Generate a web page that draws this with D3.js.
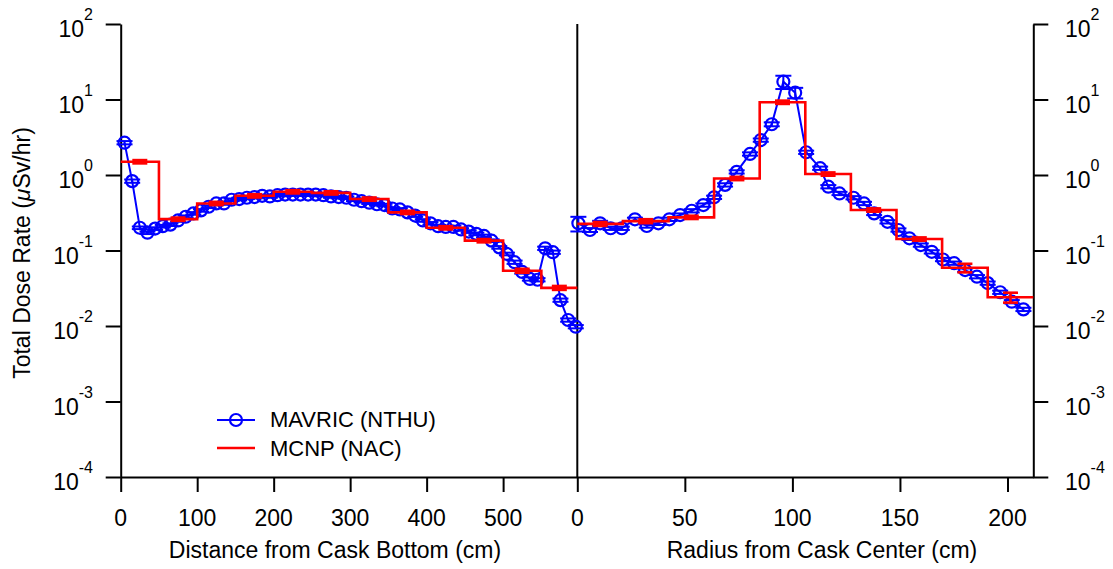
<!DOCTYPE html>
<html>
<head>
<meta charset="utf-8">
<script src="https://cdn.jsdelivr.net/npm/d3@7"></script>
<style>
  body { margin: 0; background: #fff; }
  svg { display: block; font-family: "Liberation Sans", Arial, sans-serif; }
</style>
</head>
<body>
<svg id="chart" width="1113" height="569"></svg>
<script>
// ---- data ----
// left panel: distance from cask bottom (cm)
const leftX = [5, 15, 25, 35, 45, 55, 65, 75, 85, 95, 105, 115, 125, 135, 145, 155, 165, 175, 185, 195,
  205, 215, 225, 235, 245, 255, 265, 275, 285, 295, 305, 315, 325, 335, 345, 355, 365, 375, 385, 395,
  405, 415, 425, 435, 445, 455, 465, 475, 485, 495, 505, 515, 525, 535, 545, 555, 565, 575, 585, 595];
const leftMavric = [2.68, 0.83, 0.20, 0.172, 0.195, 0.21, 0.22, 0.25, 0.28, 0.31, 0.34, 0.38, 0.42, 0.42, 0.47, 0.48, 0.50, 0.51, 0.53, 0.52,
  0.54, 0.55, 0.55, 0.55, 0.55, 0.55, 0.54, 0.52, 0.51, 0.50, 0.47, 0.45, 0.43, 0.41, 0.40, 0.36, 0.35, 0.32, 0.29, 0.25,
  0.229, 0.21, 0.205, 0.205, 0.19, 0.178, 0.166, 0.156, 0.135, 0.11, 0.09, 0.07, 0.052, 0.042, 0.041, 0.107, 0.095, 0.022, 0.012, 0.0098];
const leftMavricErr = [0.05, 0.05, 0.04, 0.04, 0.04, 0.04, 0.04, 0.04, 0.04, 0.04, 0.04, 0.04, 0.04, 0.04, 0.04, 0.04, 0.04, 0.04, 0.04, 0.04,
  0.04, 0.04, 0.04, 0.04, 0.04, 0.04, 0.04, 0.04, 0.04, 0.04, 0.04, 0.04, 0.04, 0.04, 0.04, 0.04, 0.04, 0.04, 0.04, 0.04,
  0.04, 0.04, 0.04, 0.04, 0.04, 0.04, 0.04, 0.04, 0.04, 0.04, 0.04, 0.05, 0.05, 0.05, 0.05, 0.05, 0.05, 0.05, 0.05, 0.05];
const leftEdges = [0, 50, 100, 150, 200, 250, 300, 350, 400, 450, 500, 550, 597];
const leftMcnp = [1.5, 0.26, 0.42, 0.53, 0.60, 0.58, 0.48, 0.32, 0.20, 0.135, 0.054, 0.032];
const leftMcnpErr = [0.05, 0.05, 0.05, 0.05, 0.05, 0.05, 0.05, 0.05, 0.05, 0.05, 0.06, 0.06];

// right panel: radius from cask center (cm)
const rightX = [0.5, 5.9, 10.6, 15.5, 20.7, 26.8, 32.3, 37.7, 42.8, 47.8, 53.2, 58.6, 63.6, 68.7, 74.1, 80.3, 85.3, 90.4, 95.8, 101.3,
  106.4, 112.9, 116.7, 121.9, 128.4, 133.3, 138, 144.2, 149.3, 154.4, 159.7, 164.8, 170, 175.2, 180.3, 185.8, 190.8, 196.6, 202, 207.4];
const rightMavric = [0.229, 0.187, 0.229, 0.197, 0.197, 0.259, 0.211, 0.229, 0.259, 0.295, 0.336, 0.40, 0.506, 0.74, 1.1, 1.9, 2.9, 4.7, 17.2, 12.3,
  2.0, 1.23, 0.70, 0.57, 0.50, 0.42, 0.31, 0.24, 0.187, 0.145, 0.118, 0.096, 0.076, 0.068, 0.055, 0.045, 0.037, 0.028, 0.021, 0.0166];
const rightMavricErr = [0.22, 0.06, 0.08, 0.05, 0.05, 0.05, 0.05, 0.05, 0.05, 0.05, 0.05, 0.05, 0.05, 0.05, 0.05, 0.05, 0.05, 0.06, 0.2, 0.16,
  0.05, 0.05, 0.05, 0.05, 0.05, 0.05, 0.05, 0.05, 0.05, 0.05, 0.05, 0.05, 0.05, 0.05, 0.05, 0.05, 0.05, 0.05, 0.05, 0.05];
const rightEdges = [0, 21.2, 42.4, 63.6, 84.8, 106, 127.2, 148.4, 169.6, 190.8, 212];
const rightMcnp = [0.225, 0.245, 0.275, 0.90, 9.2, 1.03, 0.344, 0.142, 0.059, 0.024];
const rightMcnpErr = [0.06, 0.06, 0.05, 0.05, 0.05, 0.05, 0.05, 0.05, 0.13, 0.15];

const leftTicks = [0, 100, 200, 300, 400, 500];
const rightTicks = [0, 50, 100, 150, 200];
const yExponents = [-4, -3, -2, -1, 0, 1, 2];
const seriesNames = ["MAVRIC (NTHU)", "MCNP (NAC)"];

// ---- layout ----
const svg = d3.select("#chart");
const plotTop = 24, plotBottom = 477;
const xL0 = 120.7, xMid = 577.3, xR1 = 1033.3;
const blue = "#0000ff", red = "#ff0000";

const y = d3.scaleLog().domain([1e-4, 1e2]).range([plotBottom, plotTop]);
const xLeft = d3.scaleLinear().domain([0, 597]).range([xL0, xMid]);
const xRight = d3.scaleLinear().domain([0, 212]).range([xMid, xR1]);

// ---- axes ----
function styleAxis(g) {
  g.selectAll("path, line").attr("stroke", "#000").attr("stroke-width", 2);
  g.selectAll("text").remove();
}
const yTickVals = yExponents.map(e => Math.pow(10, e));
svg.append("g").attr("transform", `translate(0,${plotBottom})`)
  .call(d3.axisBottom(xLeft).tickValues(leftTicks).tickSize(15).tickSizeOuter(0))
  .call(styleAxis);
svg.append("g").attr("transform", `translate(0,${plotBottom})`)
  .call(d3.axisBottom(xRight).tickValues(rightTicks).tickSize(15).tickSizeOuter(0))
  .call(styleAxis);
svg.append("g").attr("transform", `translate(${xL0},0)`)
  .call(d3.axisLeft(y).tickValues(yTickVals).tickSize(15).tickSizeOuter(0))
  .call(styleAxis);
svg.append("g").attr("transform", `translate(${xR1},0)`)
  .call(d3.axisRight(y).tickValues(yTickVals).tickSize(15).tickSizeOuter(0))
  .call(styleAxis);
// divider between panels
svg.append("line").attr("x1", xMid).attr("x2", xMid).attr("y1", plotTop).attr("y2", plotBottom)
  .attr("stroke", "#000").attr("stroke-width", 2);

// tick labels
const tickFont = 23;
svg.append("g").selectAll("text").data(leftTicks).join("text")
  .attr("x", d => xLeft(d)).attr("y", 526).attr("text-anchor", "middle")
  .attr("font-size", tickFont).text(d => d);
svg.append("g").selectAll("text").data(rightTicks).join("text")
  .attr("x", d => xRight(d)).attr("y", 526).attr("text-anchor", "middle")
  .attr("font-size", tickFont).text(d => d);

yExponents.forEach(e => {
  const yy = y(Math.pow(10, e));
  [[93, "end"], [1065, "start"]].forEach(([x, anchor]) => {
    const t = svg.append("text").attr("x", x).attr("y", yy + 13)
      .attr("text-anchor", anchor).attr("font-size", tickFont);
    t.append("tspan").text("10");
    t.append("tspan").attr("dy", -17).attr("font-size", 16).text(e);
  });
});

// axis titles
svg.append("text").attr("x", 335).attr("y", 558).attr("text-anchor", "middle")
  .attr("font-size", tickFont).text("Distance from Cask Bottom (cm)");
svg.append("text").attr("x", 822).attr("y", 558).attr("text-anchor", "middle")
  .attr("font-size", tickFont).text("Radius from Cask Center (cm)");
const yt = svg.append("text").attr("transform", "translate(30,253) rotate(-90)")
  .attr("text-anchor", "middle").attr("font-size", tickFont);
yt.append("tspan").text("Total Dose Rate (");
yt.append("tspan").attr("font-style", "italic").text("\u03bc");
yt.append("tspan").text("Sv/hr)");

// ---- series ----
function drawMavric(xs, vs, errs, xs_) {
  const pts = xs.map((x, i) => ({x, v: vs[i], e: vs[i] * errs[i]}));
  const g = svg.append("g");
  g.append("path").datum(pts)
    .attr("d", d3.line().x(d => xs_(d.x)).y(d => y(d.v)))
    .attr("fill", "none").attr("stroke", blue).attr("stroke-width", 2);
  const eb = g.append("g").attr("stroke", blue).attr("stroke-width", 2);
  pts.forEach(d => {
    const cx = xs_(d.x), y1 = y(d.v + d.e), y2 = y(d.v - d.e);
    eb.append("line").attr("x1", cx).attr("x2", cx).attr("y1", y1).attr("y2", y2);
    eb.append("line").attr("x1", cx - 8).attr("x2", cx + 8).attr("y1", y1).attr("y2", y1);
    eb.append("line").attr("x1", cx - 8).attr("x2", cx + 8).attr("y1", y2).attr("y2", y2);
  });
  g.selectAll("circle").data(pts).join("circle")
    .attr("cx", d => xs_(d.x)).attr("cy", d => y(d.v)).attr("r", 6)
    .attr("fill", "none").attr("stroke", blue).attr("stroke-width", 2.2);
}

function drawMcnp(edges, vs, errs, xs_) {
  const steps = vs.map((v, i) => ({x: edges[i], v}));
  steps.push({x: edges[edges.length - 1], v: vs[vs.length - 1]});
  const g = svg.append("g");
  g.append("path").datum(steps)
    .attr("d", d3.line().x(d => xs_(d.x)).y(d => y(d.v)).curve(d3.curveStepAfter))
    .attr("fill", "none").attr("stroke", red).attr("stroke-width", 2.6);
  const eb = g.append("g").attr("stroke", red).attr("stroke-width", 2.6);
  vs.forEach((v, i) => {
    const cx = xs_((edges[i] + edges[i + 1]) / 2);
    const y1 = y(v * (1 + errs[i])), y2 = y(v * (1 - errs[i]));
    eb.append("line").attr("x1", cx).attr("x2", cx).attr("y1", y1).attr("y2", y2);
    eb.append("line").attr("x1", cx - 7.5).attr("x2", cx + 7.5).attr("y1", y1).attr("y2", y1);
    eb.append("line").attr("x1", cx - 7.5).attr("x2", cx + 7.5).attr("y1", y2).attr("y2", y2);
  });
}

drawMavric(leftX, leftMavric, leftMavricErr, xLeft);
drawMavric(rightX, rightMavric, rightMavricErr, xRight);
drawMcnp(leftEdges, leftMcnp, leftMcnpErr, xLeft);
drawMcnp(rightEdges, rightMcnp, rightMcnpErr, xRight);

// ---- legend ----
const lg = svg.append("g");
lg.append("line").attr("x1", 217).attr("x2", 255).attr("y1", 420).attr("y2", 420)
  .attr("stroke", blue).attr("stroke-width", 2);
lg.append("circle").attr("cx", 236).attr("cy", 420).attr("r", 6)
  .attr("fill", "none").attr("stroke", blue).attr("stroke-width", 2.2);
lg.append("line").attr("x1", 217).attr("x2", 255).attr("y1", 448).attr("y2", 448)
  .attr("stroke", red).attr("stroke-width", 2.6);
lg.selectAll("text").data(seriesNames).join("text")
  .attr("x", 270).attr("y", (d, i) => 427 + i * 29)
  .attr("font-size", 22).text(d => d);
</script>
</body>
</html>
